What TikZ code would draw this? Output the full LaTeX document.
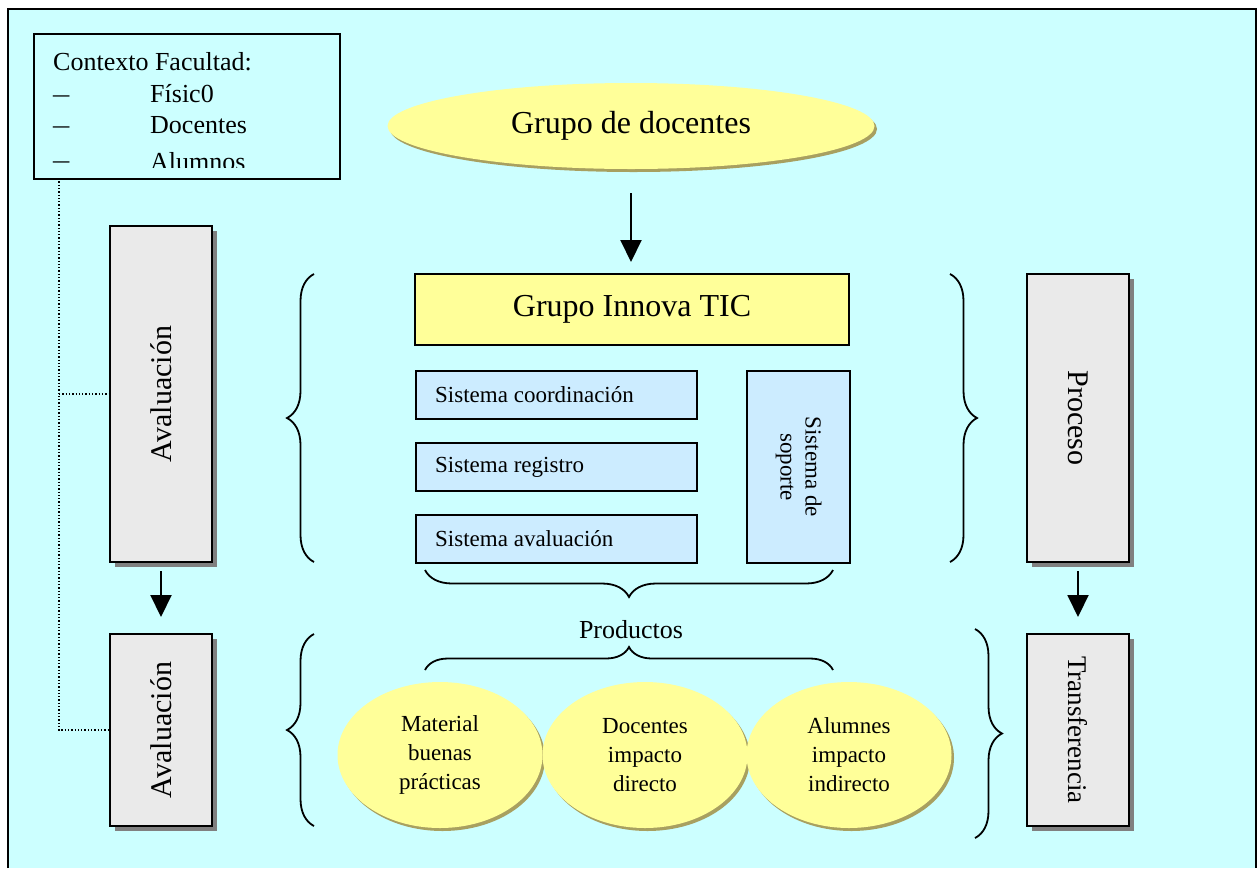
\documentclass[tikz,border=0pt]{standalone}
\usepackage{fontspec}
\setmainfont{Liberation Serif}
\usetikzlibrary{shapes.geometric,shadows,arrows.meta,decorations.pathreplacing}
\definecolor{bgc}{HTML}{CCFFFF}
\definecolor{yel}{HTML}{FFFF99}
\definecolor{yelsh}{HTML}{A8A060}
\definecolor{lblue}{HTML}{CCECFF}
\definecolor{lgray}{HTML}{EAEAEA}
\definecolor{shgray}{HTML}{808080}
\newcommand\fsz[2]{\fontsize{#1}{#2}\selectfont}
\newcommand\ctxdash{\scalebox{1.25}[1]{–}}
\begin{document}
\begin{tikzpicture}[x=1pt,y=-1pt,
  greybox/.style={draw,line width=2pt,fill=lgray,inner sep=0,minimum width=102,
    drop shadow={shadow xshift=5pt,shadow yshift=-5pt,fill=shgray,opacity=1},font=\fsz{30}{36}},
  sysbox/.style={draw,line width=1.8pt,fill=lblue,inner sep=0,minimum width=281,minimum height=48,font=\fsz{23}{27}},
  yelell/.style={ellipse,fill=yel,inner sep=0,
    drop shadow={shadow xshift=2.5pt,shadow yshift=-3pt,fill=yelsh,opacity=1}},
  bigarrow/.style={line width=2pt,-{Triangle[width=21pt,length=22pt]}},
  bracebig/.style={line width=1.8pt,decorate,decoration={brace,amplitude=27pt}},
  ctxtext/.style={anchor=base west,inner sep=0,font=\fsz{26}{31}}]
\useasboundingbox (0,0) rectangle (1260,868);
\fill[white] (0,0) rectangle (1260,868);
\fill[bgc] (8,9) rectangle (1256,868);
\draw[line width=2pt] (8,868) -- (8,9) -- (1256,9) -- (1256,868);

% Contexto box
\node[draw,line width=2pt,fill=bgc,minimum width=306,minimum height=145,inner sep=0,anchor=north west] (ctx) at (33,33) {};
\begin{scope}
\clip (33,33) rectangle (339,167);
\node[ctxtext] (c0) at (53,70) {Contexto Facultad:};
\node[ctxtext] (d1) at (53,102) {\ctxdash};
\node[ctxtext] (c1) at (150,102) {Físic0};
\node[ctxtext] (d2) at (53,133) {\ctxdash};
\node[ctxtext] (c2) at (150,133) {Docentes};
\node[ctxtext] (d3) at (53,168) {\ctxdash};
\node[ctxtext] (c3) at (150,170) {Alumnos};
\end{scope}

% Grupo de docentes
\node[yelell,minimum width=487,minimum height=86,font=\fsz{32}{38}] (gd) at (631,126) {Grupo de docentes};

% Grupo Innova TIC
\node[draw,line width=2pt,fill=yel,inner sep=0,minimum width=434,minimum height=71,font=\fsz{32}{38}] (git) at (632,309.5) {Grupo Innova TIC};

% sistemas
\node[sysbox,anchor=north west] (s1) at (415,370) {};
\node[anchor=west,inner sep=0,font=\fsz{23}{27}] (s1t) at ([xshift=20pt]s1.west) {Sistema coordinación};
\node[sysbox,anchor=north west] (s2) at (415,442) {};
\node[anchor=west,inner sep=0,font=\fsz{23}{27}] (s2t) at ([xshift=20pt]s2.west) {Sistema registro};
\node[sysbox,anchor=north west] (s3) at (415,514) {};
\node[anchor=west,inner sep=0,font=\fsz{23}{27}] (s3t) at ([xshift=20pt]s3.west) {Sistema avaluación};
\node[draw,line width=1.8pt,fill=lblue,inner sep=0,minimum width=103,minimum height=192,anchor=north west,font=\fsz{23}{27}] (sop) at (746,370)
  {\rotatebox{-90}{\begin{tabular}{@{}c@{}}Sistema de\\[-2pt]soporte\end{tabular}}};

% grey boxes
\node[greybox,minimum height=336] (av1) at (161,394) {\rotatebox{90}{Avaluación}};
\node[greybox,minimum height=192] (av2) at (161,730) {\rotatebox{90}{Avaluación}};
\node[greybox,minimum height=288] (pro) at (1078,418) {\rotatebox{-90}{Proceso}};
\node[greybox,minimum height=192,font=\fsz{27}{32}] (tra) at (1078,730) {\rotatebox{-90}{Transferencia}};

% arrows
\draw[bigarrow,shorten <=24pt,shorten >=11pt] (gd.south) -- (gd.south |- git.north);
\draw[bigarrow,shorten <=8pt,shorten >=16pt] (av1.south) -- (av2.north);
\draw[bigarrow,shorten <=8pt,shorten >=16pt] (pro.south) -- (tra.north);

% dotted connector
\coordinate (dtop) at (59,178);
\draw[dotted,line width=1.3pt] (dtop) -- (dtop |- av2.west) -- (av2.west);
\draw[dotted,line width=1.3pt] (dtop |- av1.west) -- (av1.west);

% braces
\coordinate (b1a) at (314,562); \coordinate (b1b) at (314,274);
\draw[bracebig] (b1a) -- (b1b);
\coordinate (b2a) at (950,274); \coordinate (b2b) at (950,562);
\draw[bracebig] (b2a) -- (b2b);
\coordinate (b3a) at (833,570); \coordinate (b3b) at (425,570);
\draw[bracebig] (b3a) -- (b3b);
\coordinate (b4a) at (425,670); \coordinate (b4b) at (833,670);
\draw[line width=1.8pt,decorate,decoration={brace,amplitude=23pt}] (b4a) -- (b4b);
\coordinate (b5a) at (314,826); \coordinate (b5b) at (314,634);
\draw[bracebig] (b5a) -- (b5b);
\coordinate (b6a) at (975,629); \coordinate (b6b) at (975,838);
\draw[bracebig] (b6a) -- (b6b);

\node[font=\fsz{26}{31},inner sep=0] (prod) at (631,630) {Productos};

% product ellipses
\node[yelell,minimum width=205,minimum height=146,align=center,font=\fsz{23}{29}] (e1) at (440,755) {Material\\buenas\\prácticas};
\node[yelell,minimum width=205,minimum height=146,align=center,font=\fsz{23}{29}] (e2) at (645,755) {Docentes\\impacto\\directo};
\node[yelell,minimum width=205,minimum height=146,align=center,font=\fsz{23}{29}] (e3) at (849,755) {Alumnes\\impacto\\indirecto};
\end{tikzpicture}
\end{document}
